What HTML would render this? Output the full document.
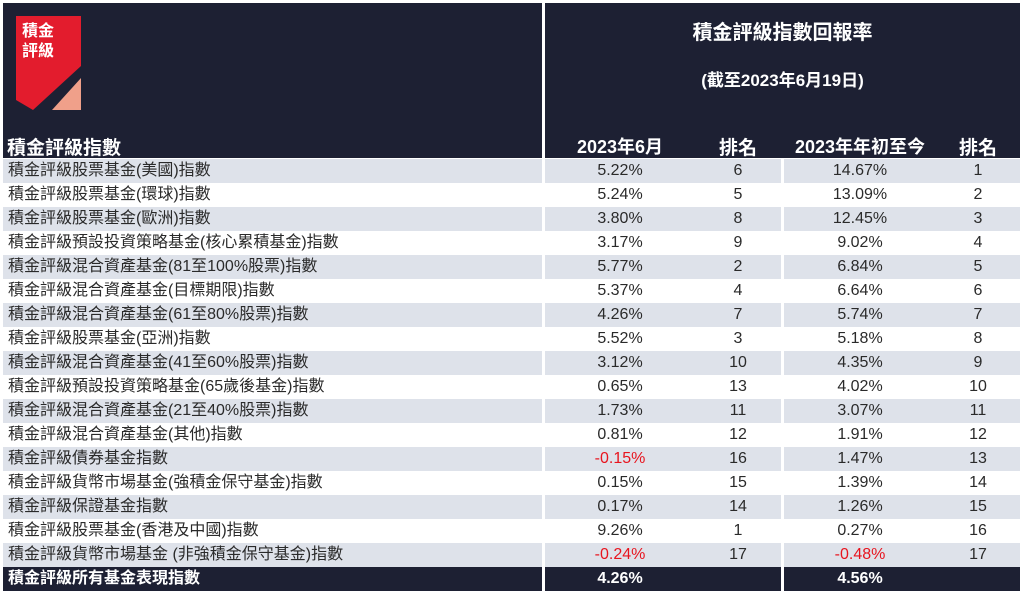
<!DOCTYPE html>
<html><head><meta charset="utf-8"><style>
body{margin:0;background:#fff;width:1024px;height:596px;position:relative;overflow:hidden;font-family:"Liberation Sans","Noto Sans CJK TC",sans-serif;}
.hd{position:absolute;background:#1d2033;}
.t{position:absolute;color:#fff;font-weight:bold;white-space:nowrap;}
.r{position:absolute;left:3px;width:1017px;height:24px;font-size:16px;color:#2a2a2a;}
.r div{position:absolute;top:0;height:24px;line-height:24px;white-space:nowrap;}
.s .c{background:#dee2ea;}
.c{top:0;height:24px;}
.n{left:5px;}
.a{left:542px;width:150px;text-align:center;}
.b{left:692px;width:86px;text-align:center;}
.y{left:781px;width:152px;text-align:center;}
.z{left:933px;width:84px;text-align:center;}
.neg{color:#e8141e;}
</style></head><body>
<div class="hd" style="left:3px;top:3px;width:539px;height:155px;"></div>
<div class="hd" style="left:545px;top:3px;width:475px;height:155px;"></div>
<svg style="position:absolute;left:0;top:0" width="100" height="120">
<polygon points="16,16 81,16 81,66 33,110 16,100" fill="#e31c2d"/>
<polygon points="81,78 81,110 52,110" fill="#f0a08a"/>
</svg>
<div class="t" style="left:22px;top:22px;font-size:16px;line-height:20px;">積金<br>評級</div>
<div class="t" style="left:545px;width:475px;text-align:center;top:16px;font-size:20px;">積金評級指數回報率</div>
<div class="t" style="left:545px;width:475px;text-align:center;top:66px;font-size:17px;">(截至2023年6月19日)</div>
<div class="t" style="left:7px;top:133px;font-size:19px;">積金評級指數</div>
<div class="t" style="left:545px;width:150px;text-align:center;top:133px;font-size:18px;">2023年6月</div>
<div class="t" style="left:695px;width:86px;text-align:center;top:133px;font-size:19px;">排名</div>
<div class="t" style="left:784px;width:152px;text-align:center;top:133px;font-size:18px;">2023年年初至今</div>
<div class="t" style="left:936px;width:84px;text-align:center;top:133px;font-size:19px;">排名</div>
<div id="rows"></div>
<div class="hd" style="left:3px;top:567px;width:539px;height:24px;"></div>
<div class="hd" style="left:545px;top:567px;width:236px;height:24px;"></div>
<div class="hd" style="left:784px;top:567px;width:236px;height:24px;"></div>
<div class="t" style="left:8px;top:567px;line-height:24px;font-size:16px;">積金評級所有基金表現指數</div>
<div class="t" style="left:545px;width:150px;text-align:center;top:567px;line-height:24px;font-size:16px;">4.26%</div>
<div class="t" style="left:784px;width:152px;text-align:center;top:567px;line-height:24px;font-size:16px;">4.56%</div>
<script>
var d=[["積金評級股票基金(美國)指數","5.22%","6","14.67%","1"],
["積金評級股票基金(環球)指數","5.24%","5","13.09%","2"],
["積金評級股票基金(歐洲)指數","3.80%","8","12.45%","3"],
["積金評級預設投資策略基金(核心累積基金)指數","3.17%","9","9.02%","4"],
["積金評級混合資產基金(81至100%股票)指數","5.77%","2","6.84%","5"],
["積金評級混合資產基金(目標期限)指數","5.37%","4","6.64%","6"],
["積金評級混合資產基金(61至80%股票)指數","4.26%","7","5.74%","7"],
["積金評級股票基金(亞洲)指數","5.52%","3","5.18%","8"],
["積金評級混合資產基金(41至60%股票)指數","3.12%","10","4.35%","9"],
["積金評級預設投資策略基金(65歲後基金)指數","0.65%","13","4.02%","10"],
["積金評級混合資產基金(21至40%股票)指數","1.73%","11","3.07%","11"],
["積金評級混合資產基金(其他)指數","0.81%","12","1.91%","12"],
["積金評級債券基金指數","-0.15%","16","1.47%","13"],
["積金評級貨幣市場基金(強積金保守基金)指數","0.15%","15","1.39%","14"],
["積金評級保證基金指數","0.17%","14","1.26%","15"],
["積金評級股票基金(香港及中國)指數","9.26%","1","0.27%","16"],
["積金評級貨幣市場基金 (非強積金保守基金)指數","-0.24%","17","-0.48%","17"]];
var h="";
d.forEach(function(r,i){
function v(x){return x.charAt(0)=="-"?' neg':'';}
h+='<div class="r'+(i%2==0?' s':'')+'" style="top:'+(159+i*24)+'px">'+
'<div class="c" style="left:0;width:539px"></div><div class="c" style="left:542px;width:236px"></div><div class="c" style="left:781px;width:236px"></div>'+
'<div class="n">'+r[0]+'</div><div class="a'+v(r[1])+'">'+r[1]+'</div><div class="b">'+r[2]+'</div><div class="y'+v(r[3])+'">'+r[3]+'</div><div class="z">'+r[4]+'</div></div>';
});
document.getElementById("rows").innerHTML=h;
</script>
</body></html>
